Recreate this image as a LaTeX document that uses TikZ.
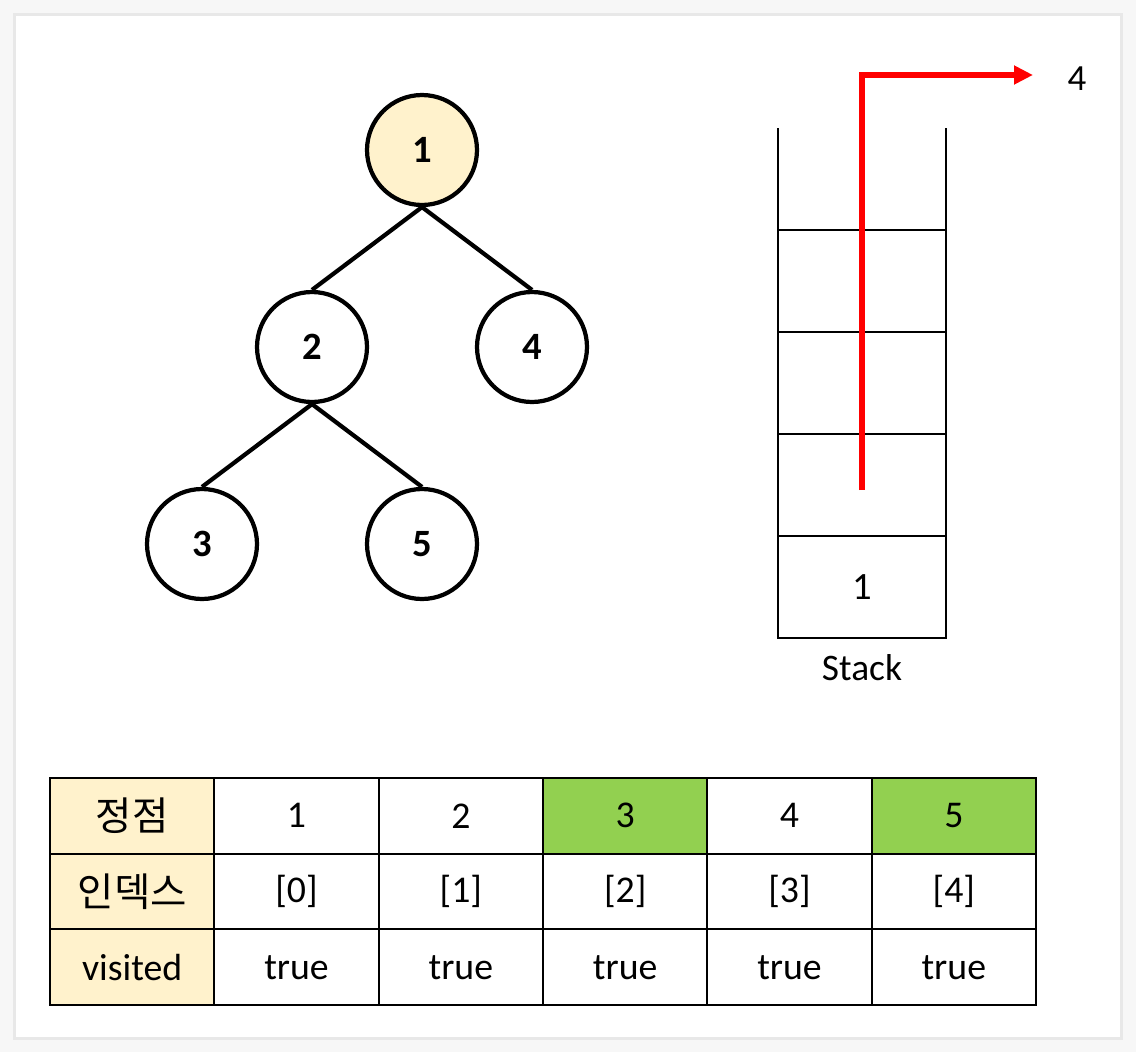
\documentclass[tikz,border=0pt]{standalone}
\usepackage{fontspec}
\setmainfont{Carlito}
\newfontfamily\krfont{Noto Sans CJK KR}
\usetikzlibrary{positioning,arrows.meta}

\definecolor{pagebg}{HTML}{F7F7F7}
\definecolor{cardedge}{HTML}{E8E8E8}
\definecolor{visitfill}{HTML}{FFF2CC}
\definecolor{popgreen}{HTML}{92D050}

\tikzset{
    vertex/.style={circle, draw, line width=2.4pt, minimum size=2.2cm, inner sep=0pt,
        font=\bfseries\fontsize{22}{26}\selectfont},
    treeedge/.style={line width=2.4pt},
    stackcell/.style={rectangle, draw, line width=1.1pt, minimum width=3.36cm,
        minimum height=2.04cm, inner sep=0pt, outer sep=0pt, font=\fontsize{22}{26}\selectfont},
    cell/.style={rectangle, draw, line width=1.1pt, minimum width=3.287cm,
        minimum height=1.513cm, inner sep=0pt, outer sep=0pt, font=\fontsize{21.5}{25}\selectfont},
    headcell/.style={cell, fill=visitfill},
    popline/.style={red, line width=3.4pt, -{Triangle[length=0.38cm, width=0.36cm]}}
}

\begin{document}
\begin{tikzpicture}[x=0.02cm, y=-0.02cm]
    % page and card
    \fill[pagebg] (0,0) rectangle (1136,1052);
    \fill[cardedge] (13,13) rectangle (1123,1040);
    \fill[white] (16,16) rectangle (1120,1037);

    % tree
    \node[vertex, fill=visitfill] (n1) at (422,150) {1};
    \node[vertex] (n2) at (312,347) {2};
    \node[vertex] (n4) at (532,347) {4};
    \node[vertex] (n3) at (202,544) {3};
    \node[vertex] (n5) at (422,544) {5};

    \draw[treeedge] (n1.south) -- (n2.north);
    \draw[treeedge] (n1.south) -- (n4.north);
    \draw[treeedge] (n2.south) -- (n3.north);
    \draw[treeedge] (n2.south) -- (n5.north);

    % stack
    \node[stackcell] (s1) at (862,587) {1};
    \node[stackcell, above=0pt of s1] (s2) {};
    \node[stackcell, above=0pt of s2] (s3) {};
    \node[stackcell, above=0pt of s3] (s4) {};
    \draw[line width=1.1pt] (s4.north west) -- ++(0,-102);
    \draw[line width=1.1pt] (s4.north east) -- ++(0,-102);
    \node[font=\fontsize{21.3}{25}\selectfont, below=0.2cm of s1] (stacklabel) {Stack};

    % popped vertex
    \coordinate (poptail) at (862,490);
    \coordinate (pophead) at (1033,75);
    \node[font=\fontsize{21}{25}\selectfont] (popped) at (1077,79) {4};
    \draw[popline] (poptail) |- (pophead);

    % visited table
    \node[headcell, font=\krfont\fontsize{22.5}{26}\selectfont] (hv) at (132.2,815.8) {정점};
    \node[headcell, font=\krfont\fontsize{22.5}{26}\selectfont] (hi) at (132.2,891.5) {인덱스};
    \node[headcell] (hs) at (132.2,967.2) {visited};
    \foreach \v/\c [count=\i] in {1/white,2/white,3/popgreen,4/white,5/popgreen} {
        \node[cell, fill=\c] (v\i) at ({50+164.33*(\i+0.5)},815.8) {\v};
        \node[cell] (i\i) at ({50+164.33*(\i+0.5)},891.5) {[\the\numexpr\i-1\relax]};
        \node[cell] (t\i) at ({50+164.33*(\i+0.5)},967.2) {true};
    }
\end{tikzpicture}
\end{document}
